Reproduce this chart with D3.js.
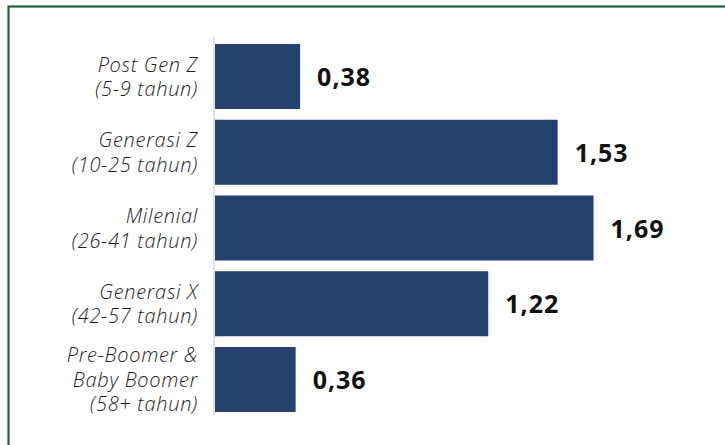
<!DOCTYPE html>
<html><head><meta charset="utf-8">
<script src="https://cdn.jsdelivr.net/npm/d3@7"></script>
<style>
html,body{margin:0;padding:0;background:#fff;}
svg{display:block;}
</style></head>
<body>
<script>
const categories = [
  ["Post Gen Z","(5-9 tahun)"],
  ["Generasi Z","(10-25 tahun)"],
  ["Milenial","(26-41 tahun)"],
  ["Generasi X","(42-57 tahun)"],
  ["Pre-Boomer &","Baby Boomer","(58+ tahun)"]
];
const values = [0.38, 1.53, 1.69, 1.22, 0.36];
const valueLabels = ["0,38","1,53","1,69","1,22","0,36"];

const W = 725, H = 445;
const svg = d3.select("body").append("svg").attr("width", W).attr("height", H);

svg.append("rect").attr("x", 8.5).attr("y", 6.5).attr("width", 740).attr("height", 460)
  .attr("fill", "none").attr("stroke", "#17663a").attr("stroke-width", 2.2);

const x0 = 215;
const x = d3.scaleLinear().domain([0, 1.69]).range([x0, 593.5]);
const y = d3.scaleBand().domain(d3.range(values.length))
  .range([38.6, 417.4]).paddingInner(0.142).paddingOuter(0.071);

svg.append("line").attr("x1", 214).attr("x2", 214).attr("y1", 38).attr("y2", 415)
  .attr("stroke", "#d9d9d9").attr("stroke-width", 1.5);

svg.selectAll("rect.bar").data(values).join("rect").attr("class","bar")
  .attr("x", x(0)).attr("y", (d,i)=>y(i))
  .attr("width", d=>x(d)-x(0)).attr("height", y.bandwidth())
  .attr("fill", "#24426f");

svg.selectAll("text.val").data(values).join("text").attr("class","val")
  .attr("x", d=>x(d)+17).attr("y", (d,i)=>y(i)+y.bandwidth()/2+3)
  .attr("dominant-baseline","middle")
  .attr("font-family","'Open Sans', Lato, sans-serif").attr("font-weight","bold")
  .attr("font-size", 25).attr("letter-spacing", 1).attr("fill","#111")
  .text((d,i)=>valueLabels[i]);

const labelLines = [];
categories.forEach((lines,i)=>{
  const cy = y(i)+y.bandwidth()/2 + 2;
  const lh = 24.5;
  const start = cy - (lines.length-1)*lh/2;
  lines.forEach((t,j)=>labelLines.push({t, y: start + j*lh}));
});
svg.selectAll("text.cat").data(labelLines).join("text").attr("class","cat")
  .attr("text-anchor","end")
  .attr("x", 198).attr("y", d=>d.y)
  .attr("dominant-baseline","middle")
  .attr("font-family","'Open Sans', Lato, sans-serif").attr("font-style","italic")
  .attr("font-weight", 300)
  .attr("font-size", 20).attr("letter-spacing", 0.7).attr("fill","#1e1e1e")
  .text(d=>d.t);
</script>
</body></html>
